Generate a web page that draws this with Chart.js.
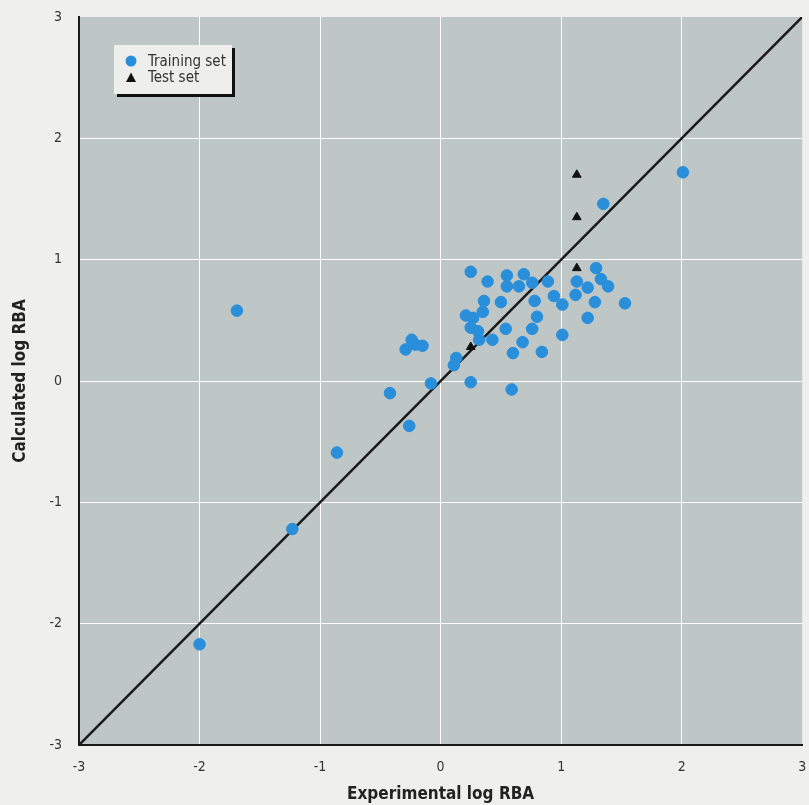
<!DOCTYPE html>
<html>
<head>
<meta charset="utf-8">
<script src="https://cdn.jsdelivr.net/npm/chart.js@4/dist/chart.umd.min.js"></script>
<style>
  html, body { margin: 0; padding: 0; background: #eff0ee; }
  #wrap { width: 809px; height: 805px; }
</style>
</head>
<body>
<div id="wrap"><canvas id="chart" width="809" height="805"></canvas></div>
<script>
const trainX = [2.01, 1.35, -1.69, -2.00, -1.23, -0.86, -0.26, -0.42, -0.08,
  -0.24, -0.29, -0.21, -0.15,
  0.25, 0.39, 0.55, 0.69, 0.55, 0.65, 0.76, 0.89, 1.13, 1.22, 1.29, 1.33, 1.39,
  1.12, 1.28, 1.53, 1.22, 1.01, 0.94, 0.78, 0.80, 0.76, 1.01, 0.68, 0.84, 0.60,
  0.59, 0.50, 0.54, 0.43, 0.36, 0.35, 0.21, 0.27, 0.25, 0.31, 0.32, 0.13, 0.11, 0.25];
const trainY = [1.72, 1.46, 0.58, -2.17, -1.22, -0.59, -0.37, -0.10, -0.02,
  0.34, 0.26, 0.30, 0.29,
  0.90, 0.82, 0.87, 0.88, 0.78, 0.78, 0.81, 0.82, 0.82, 0.77, 0.93, 0.84, 0.78,
  0.71, 0.65, 0.64, 0.52, 0.63, 0.70, 0.66, 0.53, 0.43, 0.38, 0.32, 0.24, 0.23,
  -0.07, 0.65, 0.43, 0.34, 0.66, 0.57, 0.54, 0.52, 0.44, 0.41, 0.34, 0.19, 0.13, -0.01];
const testX = [1.13, 1.13, 1.13, 0.25];
const testY = [1.70, 1.35, 0.93, 0.28];
const identityX = [-3, 3];

const blue = "#2a8fdb";
const narrow = '"Liberation Sans Narrow", "DejaVu Sans Condensed", sans-serif';

const toPoints = (xs, ys) => xs.map((x, i) => ({ x: x, y: ys[i] }));

const plotBackground = {
  id: "plotBackground",
  beforeDraw(chart) {
    const { ctx, chartArea: a } = chart;
    ctx.save();
    ctx.fillStyle = "#bfc6c6";
    ctx.fillRect(a.left, a.top, a.right - a.left, a.bottom - a.top);
    ctx.restore();
  }
};

const boxLegend = {
  id: "boxLegend",
  afterDraw(chart) {
    const ctx = chart.ctx;
    ctx.save();
    ctx.fillStyle = "#111";
    ctx.fillRect(117, 48, 118, 49);
    ctx.fillStyle = "#eeefed";
    ctx.fillRect(114, 45, 118, 49);
    ctx.fillStyle = blue;
    ctx.beginPath();
    ctx.arc(131, 61, 5.5, 0, Math.PI * 2);
    ctx.fill();
    ctx.fillStyle = "#111";
    ctx.beginPath();
    ctx.moveTo(131, 72.5);
    ctx.lineTo(136, 82);
    ctx.lineTo(126, 82);
    ctx.closePath();
    ctx.fill();
    ctx.fillStyle = "#333";
    ctx.font = "15px " + narrow;
    ctx.textBaseline = "middle";
    ctx.fillText("Training set", 148, 62);
    ctx.fillText("Test set", 148, 78);
    ctx.restore();
  }
};

new Chart(document.getElementById("chart"), {
  type: "scatter",
  data: {
    datasets: [
      {
        type: "line",
        label: "y = x",
        data: toPoints(identityX, identityX),
        borderColor: "#1a1a1a",
        borderWidth: 2.5,
        pointRadius: 0,
        fill: false,
        order: 3
      },
      {
        label: "Training set",
        data: toPoints(trainX, trainY),
        backgroundColor: blue,
        borderColor: blue,
        pointRadius: 5.8,
        order: 2
      },
      {
        label: "Test set",
        data: toPoints(testX, testY),
        pointStyle: "triangle",
        backgroundColor: "#111",
        borderColor: "#111",
        pointRadius: 5,
        order: 1
      }
    ]
  },
  options: {
    responsive: false,
    animation: false,
    layout: { padding: { top: 17, right: 3, left: 0, bottom: 0 } },
    plugins: { legend: { display: false }, tooltip: { enabled: false } },
    scales: {
      x: {
        min: -3, max: 3,
        afterFit: s => { s.height = 60; s.paddingLeft = 0; s.paddingRight = 0; },
        ticks: { stepSize: 1, padding: 14, color: "#333", font: { family: narrow, size: 14 } },
        grid: { color: c => (c.tick && c.tick.value === 3 ? "transparent" : "#ffffff"), lineWidth: 1, drawTicks: false },
        border: { display: true, color: "#1a1a1a", width: 2 },
        title: { display: true, text: "Experimental log RBA", color: "#222", padding: { top: 0, bottom: 0 },
                 font: { family: narrow, size: 17, weight: "bold" } }
      },
      y: {
        min: -3, max: 3,
        afterFit: s => { s.width = 79; s.paddingTop = 0; s.paddingBottom = 0; },
        ticks: { stepSize: 1, padding: 17, color: "#333", font: { family: narrow, size: 14 } },
        grid: { color: c => (c.tick && c.tick.value === 3 ? "transparent" : "#ffffff"), lineWidth: 1, drawTicks: false },
        border: { display: true, color: "#1a1a1a", width: 2 },
        title: { display: true, text: "Calculated log RBA", color: "#222", padding: { top: 10, bottom: 0 },
                 font: { family: narrow, size: 17, weight: "bold" } }
      }
    }
  },
  plugins: [plotBackground, boxLegend]
});
</script>
</body>
</html>
